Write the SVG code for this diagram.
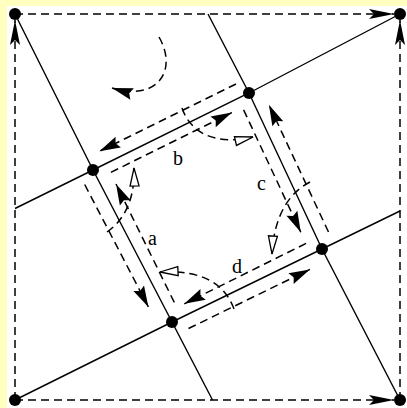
<svg xmlns="http://www.w3.org/2000/svg" width="407" height="408" viewBox="0 0 407 408">
<style>
.sol{fill:none;stroke:#000;stroke-width:1.4}
.dsh{fill:none;stroke:#000;stroke-width:1.5;stroke-dasharray:8 5}
.dot{fill:#000}
.lbl{font-family:"Liberation Serif","Times New Roman",serif;font-size:20px;fill:#000}
</style>
<defs>
<marker id="bnd" markerUnits="userSpaceOnUse" orient="auto" markerWidth="1" markerHeight="1" overflow="visible"><path d="M0,0 L-25,-5 L-20,0 L-25,5 Z" fill="#000"/></marker>
<marker id="fa" markerUnits="userSpaceOnUse" orient="auto" markerWidth="1" markerHeight="1" overflow="visible"><path d="M0,0 L-21,-6 L-18,0 L-21,6 Z" fill="#000"/></marker>
<marker id="oa" markerUnits="userSpaceOnUse" orient="auto" markerWidth="1" markerHeight="1" overflow="visible"><path d="M0,0 L-18,-4.5 L-18,4.5 Z" fill="#fff" stroke="#000" stroke-width="1.3"/></marker>
</defs>
<rect width="407" height="408" fill="#ffffc0"/>
<rect x="7" y="6" width="400" height="402" fill="#fff"/>
<g id="connectors">
<path class="dsh" d="M15,400 L15,20" marker-end="url(#bnd)"/>
<path class="dsh" d="M400,400 L400,20" marker-end="url(#bnd)"/>
<path class="dsh" d="M15,14 L394,14" marker-end="url(#bnd)"/>
<path class="dsh" d="M15,400 L394,400" marker-end="url(#bnd)"/>
<path class="sol" d="M15,14 L93,170 L172,322 L212.5,400"/>
<path class="sol" d="M400,14 L249,93 L93,170 L15,208.5"/>
<path class="sol" d="M208,14 L249,93 L322,249 L400,400"/>
<path class="sol" d="M15,400 L172,322 L322,249 L400,211"/>
<path class="dsh" d="M236,84 L99.4,151.3" marker-end="url(#fa)"/>
<path class="dsh" d="M110.9,172.3 L231.9,112.6" marker-end="url(#fa)"/>
<path class="dsh" d="M328.5,232 L268.9,104.7" marker-end="url(#fa)"/>
<path class="dsh" d="M243.6,109.9 L300.8,232.2" marker-end="url(#fa)"/>
<path class="dsh" d="M188.5,328.5 L309.9,269.4" marker-end="url(#fa)"/>
<path class="dsh" d="M306.1,243.4 L184.3,303.8" marker-end="url(#fa)"/>
<path class="dsh" d="M84.7,184.5 L148.4,306.9" marker-end="url(#fa)"/>
<path class="dsh" d="M174.3,302.4 L116,184" marker-end="url(#fa)"/>
<path class="dsh" d="M159,37 C178,70 158,102 112,88" marker-end="url(#fa)"/>
<path class="dsh" d="M182,108 C190,132 214,146 253,137" marker-end="url(#oa)"/>
<path class="dsh" d="M310,182 C290,192 274,215 272,254" marker-end="url(#oa)"/>
<path class="dsh" d="M234,309 C225,285 205,270 160,272" marker-end="url(#oa)"/>
<path class="dsh" d="M107,232 C124,220 135,200 134,168" marker-end="url(#oa)"/>
</g>
<g id="node-c1"><circle class="dot" cx="15" cy="14" r="6"/></g>
<g id="node-c2"><circle class="dot" cx="400" cy="14" r="6"/></g>
<g id="node-c3"><circle class="dot" cx="15" cy="400" r="6"/></g>
<g id="node-c4"><circle class="dot" cx="400" cy="400" r="6"/></g>
<g id="node-L"><circle class="dot" cx="93" cy="170" r="6"/></g>
<g id="node-T"><circle class="dot" cx="249" cy="93" r="6"/></g>
<g id="node-R"><circle class="dot" cx="322" cy="249" r="6"/></g>
<g id="node-B"><circle class="dot" cx="172" cy="322" r="6"/></g>
<g id="labels">
<text class="lbl" x="148" y="245">a</text>
<text class="lbl" x="173" y="165">b</text>
<text class="lbl" x="257" y="190">c</text>
<text class="lbl" x="232" y="273">d</text>
</g>
</svg>
